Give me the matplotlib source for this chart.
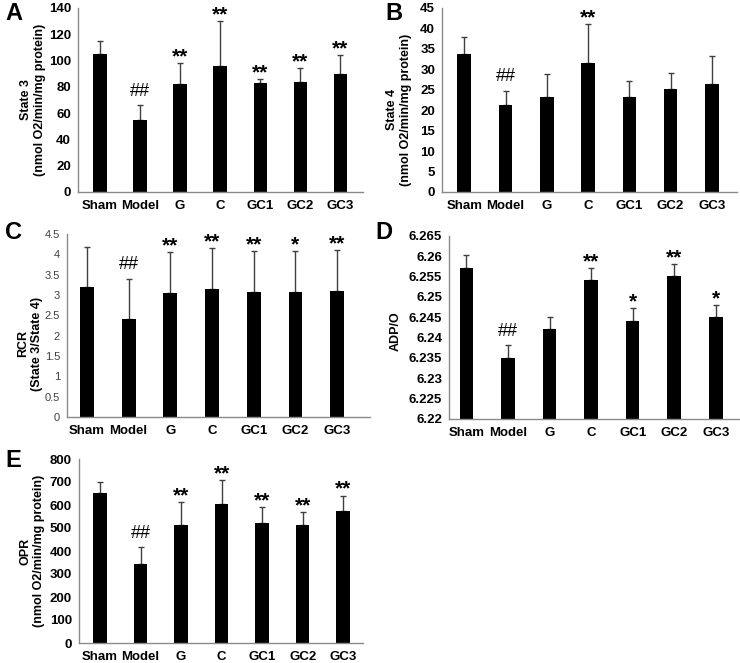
import matplotlib
matplotlib.use('Agg')
import matplotlib.pyplot as plt
import numpy as np

plt.rcParams['font.family'] = ['Liberation Sans', 'DejaVu Sans']

groups = ['Sham', 'Model', 'G', 'C', 'GC1', 'GC2', 'GC3']

state3 = [105, 55, 82, 96, 83, 84, 90]
state3_err = [10, 11, 16, 34, 3, 10, 14]
state3_sig = ['', '##', '**', '**', '**', '**', '**']

state4 = [33.7, 21.2, 23.2, 31.5, 23.2, 25.1, 26.5]
state4_err = [4.3, 3.5, 5.7, 9.5, 4.0, 4.1, 6.8]
state4_sig = ['', '##', '', '**', '', '', '']

rcr = [3.19, 2.40, 3.04, 3.15, 3.07, 3.08, 3.11]
rcr_err = [0.99, 1.00, 1.01, 1.00, 1.00, 1.00, 1.00]
rcr_sig = ['', '##', '**', '**', '**', '*', '**']

adpo = [6.2571, 6.2351, 6.2422, 6.2541, 6.2441, 6.2551, 6.2450]
adpo_err = [0.0033, 0.0030, 0.0030, 0.0031, 0.0031, 0.0031, 0.0031]
adpo_sig = ['', '##', '', '**', '*', '**', '*']

opr = [651, 343, 515, 604, 521, 512, 572]
opr_err = [51, 73, 96, 103, 72, 57, 69]
opr_sig = ['', '##', '**', '**', '**', '**', '**']

W, H = 740, 663
fig = plt.figure(figsize=(W / 100, H / 100), dpi=100)


def make_axes(left, right, top, bottom):
    return fig.add_axes([left / W, (H - bottom) / H, (right - left) / W, (bottom - top) / H])


def panel(ax, vals, errs, sig, ylim, yticks, ytfmt, ylabel, xlim, lab_x, lab_y,
          bold_ticks=True):
    x = np.arange(len(groups))
    ax.bar(x, vals, width=0.33, color='black', zorder=2)
    ax.errorbar(x, vals, yerr=[np.zeros(len(errs)), errs], fmt='none',
                ecolor='#404040', elinewidth=1, capsize=2, capthick=1, zorder=1)
    ax.set_xlim(*xlim)
    ax.set_ylim(*ylim)
    ax.set_yticks(yticks)
    ax.set_yticklabels([ytfmt(t) for t in yticks])
    ax.set_xticks(x)
    ax.set_xticklabels(groups, fontsize=9.5, fontweight='bold')
    for s in ['top', 'right']:
        ax.spines[s].set_visible(False)
    for s in ['left', 'bottom']:
        ax.spines[s].set_color('#8a8a8a')
        ax.spines[s].set_linewidth(1)
    ax.tick_params(length=0)
    ax.tick_params(axis='x', pad=6)
    ax.tick_params(axis='y', pad=5)
    if bold_ticks:
        for t in ax.get_yticklabels():
            t.set_fontweight('bold')
            t.set_fontsize(9.5)
    else:
        for t in ax.get_yticklabels():
            t.set_fontsize(8)
            t.set_color('#404040')
    ax.set_ylabel(ylabel, fontsize=9, fontweight='bold')
    ax.yaxis.set_label_coords(lab_x, lab_y)
    for xi, v, e, s in zip(x, vals, errs, sig):
        if not s:
            continue
        if s.startswith('#'):
            ax.annotate(s, (xi, v + e), xytext=(0, 4), textcoords='offset points',
                        ha='center', va='bottom', fontsize=13)
        else:
            ax.annotate(s, (xi, v + e), xytext=(0, 0.5), textcoords='offset points',
                        ha='center', va='baseline', fontsize=15, fontweight='bold')


def fmt_plain(t):
    return '%g' % t


axA = make_axes(78, 363, 8, 192)
panel(axA, state3, state3_err, state3_sig, (0, 140), np.arange(0, 141, 20), fmt_plain,
      'State 3\n(nmol O2/min/mg protein)', (-0.55, 6.57), -0.112, 0.5)

axB = make_axes(442, 737, 8, 192)
panel(axB, state4, state4_err, state4_sig, (0, 45), np.arange(0, 46, 5), fmt_plain,
      'State 4\n(nmol O2/min/mg protein)', (-0.54, 6.61), -0.103, 0.446)

axC = make_axes(67, 370, 234, 417)
panel(axC, rcr, rcr_err, rcr_sig, (0, 4.5), np.arange(0, 4.51, 0.5), fmt_plain,
      'RCR\n(State 3/State 4)', (-0.48, 6.79), -0.08, 0.40, bold_ticks=False)

axD = make_axes(449, 739, 236, 419)
panel(axD, adpo, adpo_err, adpo_sig, (6.22, 6.265), np.linspace(6.22, 6.265, 10),
      lambda t: ('%.3f' % t).rstrip('0'),
      'ADP/O', (-0.42, 6.56), -0.163, 0.48)

axE = make_axes(79, 363, 459, 643)
panel(axE, opr, opr_err, opr_sig, (0, 800), np.arange(0, 801, 100), fmt_plain,
      'OPR\n(nmol O2/min/mg protein)', (-0.52, 6.49), -0.12, 0.5)

for lab, px, py in [('A', 5, 2), ('B', 385, 2), ('C', 5, 221), ('D', 375, 221), ('E', 5, 449)]:
    fig.text(px / W, 1 - py / H, lab, fontsize=17, fontweight='bold', ha='left', va='top')

fig.savefig('out.png', dpi=100)
